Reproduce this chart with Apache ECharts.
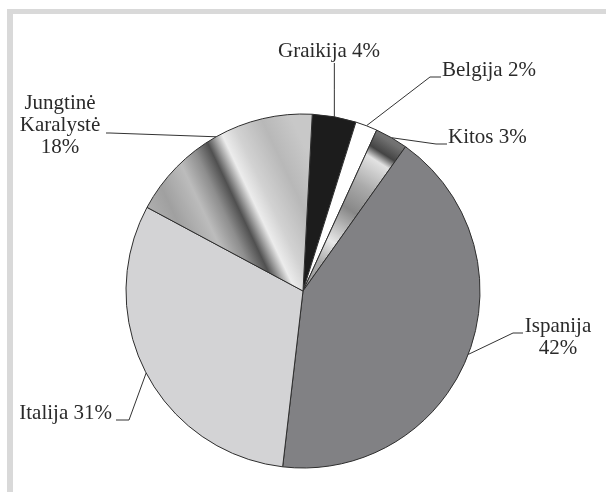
<!DOCTYPE html>
<html><head><meta charset="utf-8">
<script src="https://cdn.jsdelivr.net/npm/echarts@6/dist/echarts.min.js"></script>
<style>html,body{margin:0;padding:0;background:#fff;font-family:"Liberation Serif",serif}#c{width:606px;height:492px}</style>
</head><body><div id="c"></div>
<script>
// ---- data ----
const categories = ['Graikija', 'Belgija', 'Kitos', 'Ispanija', 'Italija', 'Jungtinė Karalystė'];
const shares = [4, 2, 3, 42, 31, 18];

// ---- geometry / style ----
const CX = 303, CY = 291, R = 177, START = 87;
const FONT = 'Liberation Serif';

const jkGradient = {
  type: 'linear', x: 0, y: 0.72, x2: 1, y2: 0.28,
  colorStops: [
    {offset: 0, color: '#b8b8b8'}, {offset: 0.2, color: '#a0a0a0'},
    {offset: 0.35, color: '#bcbcbc'}, {offset: 0.45, color: '#8e8e8e'},
    {offset: 0.53, color: '#505050'}, {offset: 0.575, color: '#a0a0a0'},
    {offset: 0.62, color: '#ececec'}, {offset: 0.7, color: '#d2d2d2'},
    {offset: 0.85, color: '#b8b8b8'}, {offset: 1, color: '#c8c8c8'}
  ]
};
const kitosGradient = {
  type: 'linear', x: 0, y: 1, x2: 1, y2: 0,
  colorStops: [
    {offset: 0, color: '#999999'}, {offset: 0.18, color: '#aaaaaa'},
    {offset: 0.3, color: '#e8e8e8'}, {offset: 0.49, color: '#888888'},
    {offset: 0.63, color: '#aaaaaa'}, {offset: 0.78, color: '#e2e2e2'},
    {offset: 0.83, color: '#444444'}, {offset: 0.9, color: '#707070'},
    {offset: 1, color: '#858585'}
  ]
};
const sliceFill = ['#1c1c1c', '#ffffff', kitosGradient, '#818184', '#d3d3d5', jkGradient];

// label placement: x,y = label anchor; tail = leader end relative to label; elbow = horizontal run
const labelPlace = [
  {x: 329, y: 51, align: 'center', stacked: false, vertical: true, tail: [0, 12]},
  {x: 442, y: 70, align: 'left', stacked: false, tail: [-1, 7], elbow: 11},
  {x: 448, y: 137, align: 'left', stacked: false, tail: [-1, 7], elbow: 11},
  {x: 558, y: 337, align: 'center', stacked: true, tail: [-35, -4], elbow: 10},
  {x: 112, y: 413, align: 'right', stacked: false, tail: [4, 7], elbow: -13},
  {x: 60, y: 125, align: 'center', stacked: true, tail: [46, 8], elbow: -4}
];

const total = shares.reduce((a, b) => a + b, 0);
function anchorOf(i) {
  let before = 0;
  for (let k = 0; k < i; k++) before += shares[k];
  const mid = (before + shares[i] / 2) / total * 360;
  const ang = (START - mid) * Math.PI / 180;
  return [CX + R * Math.cos(ang), CY - R * Math.sin(ang)];
}

const data = categories.map((name, i) => ({
  name: name, value: shares[i],
  itemStyle: {color: sliceFill[i]}
}));

const chart = echarts.init(document.getElementById('c'), null, {renderer: 'canvas'});
chart.setOption({
  animation: false,
  backgroundColor: '#ffffff',
  textStyle: {fontFamily: FONT},
  graphic: [
    {type: 'rect', shape: {x: 7, y: 9, width: 599, height: 5}, style: {fill: '#d9d9d9'}, silent: true},
    {type: 'rect', shape: {x: 7, y: 9, width: 6, height: 483}, style: {fill: '#d9d9d9'}, silent: true}
  ],
  series: [{
    type: 'pie',
    center: [CX, CY],
    radius: R,
    startAngle: START,
    clockwise: true,
    avoidLabelOverlap: false,
    data: data,
    itemStyle: {borderColor: '#2e2e2e', borderWidth: 1},
    emphasis: {disabled: true},
    label: {
      show: true,
      position: 'outside',
      fontFamily: FONT,
      fontSize: 21,
      lineHeight: 22,
      color: '#2a2a2a',
      formatter: function (p) {
        const cfg = labelPlace[p.dataIndex];
        const pct = p.value + '%';
        if (cfg.stacked) return p.name.split(' ').join('\n') + '\n' + pct;
        return p.name + ' ' + pct;
      }
    },
    labelLine: {show: true, length: 10, length2: 10, smooth: false,
      lineStyle: {color: '#333333', width: 1}},
    labelLayout: function (params) {
      const i = params.dataIndex;
      const cfg = labelPlace[i];
      const a = anchorOf(i);
      let pts;
      if (cfg.vertical) {
        const end = [a[0], cfg.y + cfg.tail[1]];
        pts = [a, [a[0], (a[1] + end[1]) / 2], end];
      } else {
        const end = [cfg.x + cfg.tail[0], cfg.y + cfg.tail[1]];
        const elbow = [end[0] - cfg.elbow, end[1]];
        pts = [a, elbow, end];
      }
      return {x: cfg.x, y: cfg.y, align: cfg.align, verticalAlign: 'middle', labelLinePoints: pts};
    }
  }]
});
</script>
</body></html>
